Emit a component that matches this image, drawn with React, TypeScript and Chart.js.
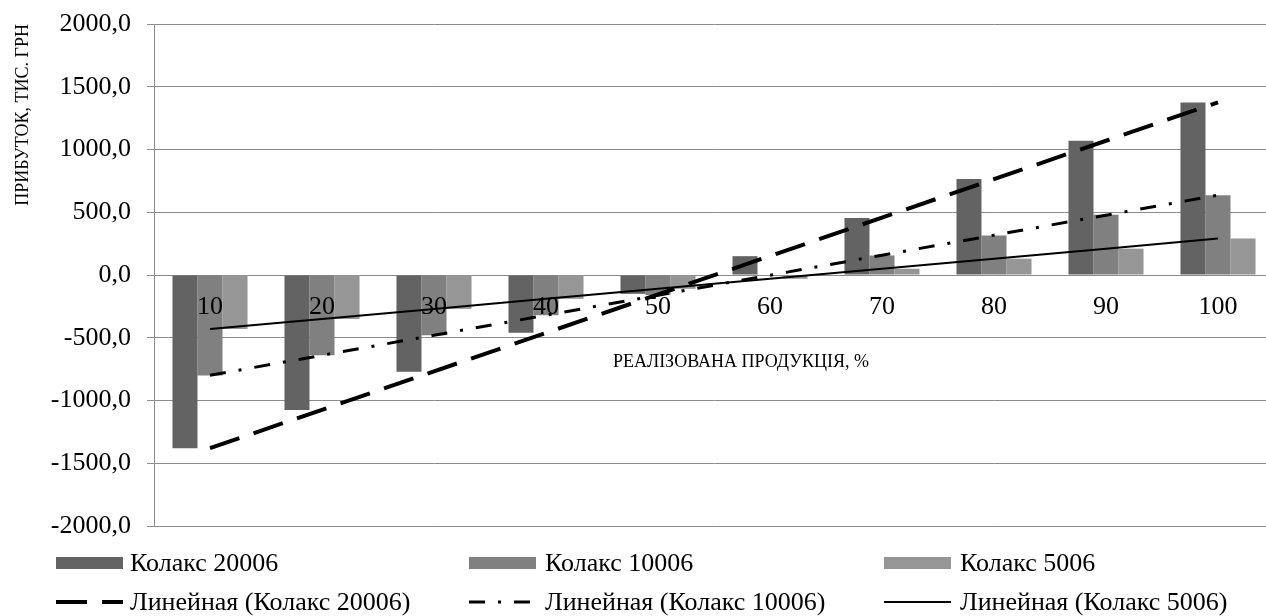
import React, { useEffect, useRef } from 'react';
import { Chart, registerables } from 'chart.js';

Chart.register(...registerables);

// ---- data ----
const categories = ['10', '20', '30', '40', '50', '60', '70', '80', '90', '100'];
const kolaks20006 = [-1380, -1075, -770, -460, -150, 150, 455, 765, 1070, 1375];
const kolaks10006 = [-800, -640, -480, -320, -160, 0, 155, 315, 480, 635];
const kolaks5006 = [-430, -350, -270, -190, -110, -30, 50, 130, 210, 290];
const seriesNames = ['Колакс 20006', 'Колакс 10006', 'Колакс 5006'];
const trendNames = ['Линейная (Колакс 20006)', 'Линейная (Колакс 10006)', 'Линейная (Колакс 5006)'];
const yMin = -2000;
const yMax = 2000;
const yStep = 500;
const yTitle = 'ПРИБУТОК, ТИС. ГРН';
const xTitle = 'РЕАЛІЗОВАНА ПРОДУКЦІЯ, %';

// ---- styles ----
const barColors = ['#636363', '#808080', '#969696'];
const trendStyles = [
  { width: 4, dash: [31, 15] },
  { width: 3, dash: [16, 13, 3, 13] },
  { width: 2, dash: [] as number[] },
];
const FONT = '"Liberation Serif", "Times New Roman", serif';
const GRID = '#8c8c8c';

function linearTrend(values: number[]): number[] {
  const n = values.length;
  const xs = values.map((_, i) => i + 1);
  const mx = xs.reduce((a, b) => a + b, 0) / n;
  const my = values.reduce((a, b) => a + b, 0) / n;
  let sxy = 0;
  let sxx = 0;
  for (let i = 0; i < n; i++) {
    sxy += (xs[i] - mx) * (values[i] - my);
    sxx += (xs[i] - mx) * (xs[i] - mx);
  }
  const b = sxy / sxx;
  const a = my - b * mx;
  return xs.map((x) => a + b * x);
}

const overlayPlugin = {
  id: 'overlay',
  afterDraw(chart: any) {
    const ctx = chart.ctx as CanvasRenderingContext2D;
    ctx.save();
    // x-axis title
    ctx.fillStyle = '#000';
    ctx.font = `18px ${FONT}`;
    ctx.textAlign = 'center';
    ctx.textBaseline = 'middle';
    ctx.fillText(xTitle, 741, 362);

    // legend
    const colSwatch = [56, 469, 884];
    const colText = [130, 545, 960];
    const rowY = [563, 602];
    const swW = 67;
    ctx.font = `26px ${FONT}`;
    ctx.textAlign = 'left';
    for (let i = 0; i < 3; i++) {
      // bars
      ctx.fillStyle = barColors[i];
      ctx.fillRect(colSwatch[i], rowY[0] - 6, swW, 12);
      ctx.fillStyle = '#000';
      ctx.fillText(seriesNames[i], colText[i], rowY[0] + 1);
      // trend lines
      ctx.save();
      ctx.strokeStyle = '#000';
      ctx.lineWidth = trendStyles[i].width;
      ctx.lineCap = 'butt';
      ctx.setLineDash(trendStyles[i].dash);
      ctx.beginPath();
      ctx.moveTo(colSwatch[i], rowY[1]);
      ctx.lineTo(colSwatch[i] + swW, rowY[1]);
      ctx.stroke();
      ctx.restore();
      ctx.fillStyle = '#000';
      ctx.fillText(trendNames[i], colText[i], rowY[1] + 1);
    }
    ctx.restore();
  },
};

export default function App() {
  const ref = useRef<HTMLCanvasElement | null>(null);

  useEffect(() => {
    if (!ref.current) return;
    const barSets = [kolaks20006, kolaks10006, kolaks5006].map((vals, i) => ({
      type: 'bar' as const,
      label: seriesNames[i],
      data: vals,
      backgroundColor: barColors[i],
      borderWidth: 0,
      order: 1,
      categoryPercentage: 0.67,
      barPercentage: 1,
    }));
    const lineSets = [kolaks20006, kolaks10006, kolaks5006].map((vals, i) => ({
      type: 'line' as const,
      label: trendNames[i],
      data: linearTrend(vals),
      borderColor: '#000',
      borderWidth: trendStyles[i].width,
      borderDash: trendStyles[i].dash,
      borderCapStyle: 'butt',
      pointRadius: 0,
      fill: false,
      tension: 0,
      order: 0,
    }));

    const chart = new Chart(ref.current, {
      type: 'bar',
      data: { labels: categories, datasets: [...barSets, ...lineSets] as any },
      options: {
        animation: false,
        responsive: true,
        maintainAspectRatio: false,
        layout: { padding: { top: 24, bottom: 90, left: 0, right: 0 } },
        plugins: { legend: { display: false }, tooltip: { enabled: false } },
        scales: {
          x: {
            type: 'category',
            position: { y: 0 } as any,
            offset: true,
            grid: { display: false, drawTicks: false },
            border: { display: false },
            ticks: {
              z: 1,
              color: '#000',
              font: { family: FONT, size: 26 },
              padding: 17,
              maxRotation: 0,
              autoSkip: false,
            },
          },
          y: {
            position: 'left',
            min: yMin,
            max: yMax,
            afterFit: (scale: any) => {
              scale.width = 154;
              scale.paddingTop = 0;
              scale.paddingBottom = 0;
            },
            ticks: {
              stepSize: yStep,
              color: '#000',
              font: { family: FONT, size: 26 },
              padding: 16,
              callback: (v: any) => Number(v).toFixed(1).replace('.', ','),
            },
            grid: { color: GRID, lineWidth: 1, tickLength: 7, drawTicks: true },
            border: { display: true, color: GRID, width: 1 },
            title: {
              display: true,
              text: yTitle,
              align: 'end',
              color: '#000',
              font: { family: FONT, size: 18 },
              padding: { top: 12, bottom: 0 },
            },
          },
        },
      },
      plugins: [overlayPlugin],
    } as any);
    return () => chart.destroy();
  }, []);

  return (
    <div
      style={{
        position: 'fixed',
        left: 0,
        top: 0,
        width: 1266,
        height: 616,
        overflow: 'hidden',
        background: '#fff',
      }}
    >
      <div style={{ position: 'relative', width: 1274, height: 616 }}>
        <canvas ref={ref} />
      </div>
    </div>
  );
}
